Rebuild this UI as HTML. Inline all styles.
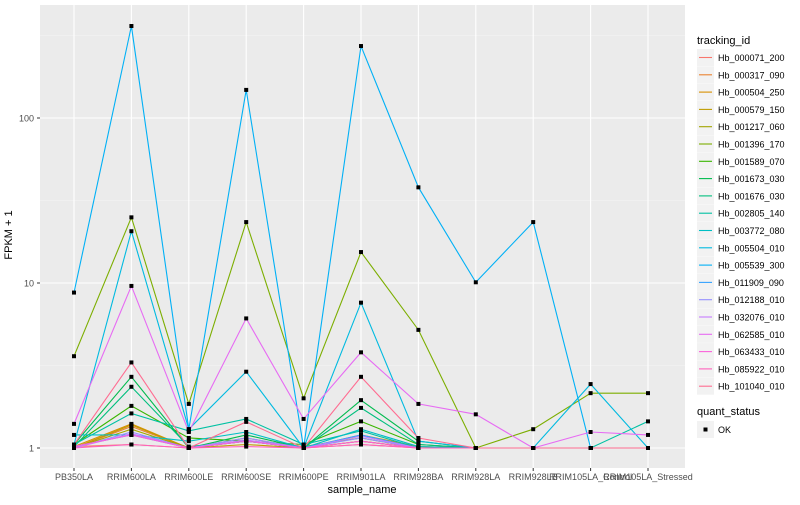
<!DOCTYPE html>
<html><head><meta charset="utf-8"><style>
body{margin:0;background:#fff;font-family:"Liberation Sans",sans-serif;}
svg text{font-family:"Liberation Sans",sans-serif;}
</style></head><body>
<svg id="chart" width="800" height="500" xmlns="http://www.w3.org/2000/svg">
<rect x="40" y="5" width="645" height="463" fill="#EBEBEB"/>
<g id="grid"></g><g id="lines"></g><g id="pts"></g><g id="axes"></g><g id="legend"></g>
<text x="12" y="235" transform="rotate(-90 12 235)" text-anchor="middle" font-size="11">FPKM + 1</text>
<text x="362" y="493" text-anchor="middle" font-size="11">sample_name</text>
</svg>
<script>
const categories=["PB350LA","RRIM600LA","RRIM600LE","RRIM600SE","RRIM600PE","RRIM901LA","RRIM928BA","RRIM928LA","RRIM928LB","RRIM105LA_Control","RRIM105LA_Stressed"];
const seriesNames=["Hb_000071_200","Hb_000317_090","Hb_000504_250","Hb_000579_150","Hb_001217_060","Hb_001396_170","Hb_001589_070","Hb_001673_030","Hb_001676_030","Hb_002805_140","Hb_003772_080","Hb_005504_010","Hb_005539_300","Hb_011909_090","Hb_012188_010","Hb_032076_010","Hb_062585_010","Hb_063433_010","Hb_085922_010","Hb_101040_010"];
const seriesColors=["#F8766D","#EA8331","#D89000","#C09B00","#A3A500","#7CAE00","#39B600","#00BB4E","#00BF7D","#00C1A3","#00BFC4","#00BAE0","#00B0F6","#35A2FF","#9590FF","#C77CFF","#E76BF3","#FA62DB","#FF62BC","#FF6C91"];
const s000071=[1.02,1.05,1.0,1.1,1.0,1.05,1.0,1,1,1,1];
const s000317=[1.0,1.35,1.0,1.1,1.0,1.1,1.0,1,1,1,1];
const s000504=[1.02,1.4,1.0,1.15,1.0,1.2,1.02,1,1,1,1];
const s000579=[1.0,1.38,1.0,1.05,1.0,1.1,1.0,1,1,1,1];
const s001217=[1.0,1.3,1.0,1.1,1.02,1.15,1.0,1,1,1,1];
const s001396=[3.6,25,1.85,23.4,2.0,15.4,5.2,1.0,1.3,2.15,2.15];
const s001589=[1.05,1.8,1.15,1.1,1.05,1.45,1.05,1,1,1,1];
const s001673=[1.05,2.7,1.0,1.2,1.0,1.95,1.1,1,1,1,1];
const s001676=[1.02,2.35,1.02,1.1,1.0,1.75,1.05,1,1,1,1];
const s002805=[1.05,1.62,1.27,1.5,1.05,1.27,1.0,1,1,1,1.45];
const s003772=[1.2,1.2,1.1,1.25,1.0,1.3,1.02,1,1,1,1];
const s005504=[1.05,20.6,1.3,2.9,1.0,7.6,1.1,1,1,2.44,1];
const s005539=[8.75,361,1.3,148,1.0,273,38,10.1,23.4,1,1];
const s011909=[1.02,1.2,1.0,1.1,1.0,1.2,1.0,1,1,1,1];
const s012188=[1.0,1.25,1.0,1.15,1.0,1.15,1.0,1,1,1,1];
const s032076=[1.0,1.22,1.0,1.12,1.0,1.18,1.0,1,1,1,1];
const s062585=[1.4,9.6,1.25,6.1,1.5,3.8,1.85,1.6,1.0,1.25,1.2];
const s063433=[1.02,1.2,1.0,1.1,1.0,1.1,1.0,1,1,1,1];
const s085922=[1.0,1.05,1.0,1.02,1.0,1.05,1,1,1,1,1];
const s101040=[1.05,3.3,1.0,1.44,1.0,2.7,1.15,1,1,1,1];
const seriesValues=[s000071,s000317,s000504,s000579,s001217,s001396,s001589,s001673,s001676,s002805,s003772,s005504,s005539,s011909,s012188,s032076,s062585,s063433,s085922,s101040];
const yTicks=[1,10,100];
const yMinor=[3.1623,31.623,316.23];
const NS="http://www.w3.org/2000/svg";
function xS(i){return 74+i*57.4;}
function yS(v){return 448-Math.log10(v)*165;}
function mk(tag,attrs,parent){const e=document.createElementNS(NS,tag);for(const k in attrs)e.setAttribute(k,attrs[k]);parent.appendChild(e);return e;}
const grid=document.getElementById('grid'),lines=document.getElementById('lines'),pts=document.getElementById('pts'),axes=document.getElementById('axes'),legend=document.getElementById('legend');
yMinor.forEach(v=>{const l=mk('line',{x1:40,x2:685,y1:yS(v),y2:yS(v),stroke:'#F5F5F5','stroke-width':0.6},grid);

});
yTicks.forEach(v=>{const l=mk('line',{x1:40,x2:685,y1:yS(v),y2:yS(v),stroke:'#fff','stroke-width':1.1},grid);


const t=mk('text',{x:34,y:yS(v)+3.5,'text-anchor':'end','font-size':9,fill:'#4D4D4D'},axes);t.textContent=v;


mk('line',{x1:37,x2:40,y1:yS(v),y2:yS(v),stroke:'#333'},axes);});
categories.forEach((c,i)=>{const l=mk('line',{x1:xS(i),x2:xS(i),y1:5,y2:468,stroke:'#fff','stroke-width':1.1},grid);


mk('line',{x1:xS(i),x2:xS(i),y1:468,y2:471,stroke:'#333'},axes);
const t=mk('text',{x:xS(i),y:480,'text-anchor':'middle','font-size':9,fill:'#4D4D4D'},axes);t.textContent=c;

});
seriesValues.forEach((vals,si)=>{
const p=mk('polyline',{points:vals.map((v,i)=>xS(i)+','+yS(v)).join(' '),fill:'none',stroke:seriesColors[si],'stroke-width':1.1},lines);


vals.forEach((v,i)=>{const r=mk('rect',{x:xS(i)-2,y:yS(v)-2,width:4,height:4,fill:'#000'},pts);

});});
let t=mk('text',{x:697,y:44,'font-size':11},legend);t.textContent='tracking_id';


seriesNames.forEach((n,i)=>{const y=49+i*17.3;
const g=mk('g',{},legend);


mk('rect',{x:697,y:y,width:17,height:17,fill:'#F2F2F2'},g);
mk('line',{x1:699,x2:712,y1:y+8.5,y2:y+8.5,stroke:seriesColors[i],'stroke-width':1.1},g);
const tt=mk('text',{x:718,y:y+12,'font-size':9},g);tt.textContent=n;});
t=mk('text',{x:697,y:415,'font-size':11},legend);t.textContent='quant_status';


const g2=mk('g',{},legend);


mk('rect',{x:697,y:421,width:17,height:17,fill:'#F2F2F2'},g2);
mk('rect',{x:703.5,y:427.5,width:4,height:4,fill:'#000'},g2);
const ok=mk('text',{x:718,y:433,'font-size':9},g2);ok.textContent='OK';
</script>
</body></html>
